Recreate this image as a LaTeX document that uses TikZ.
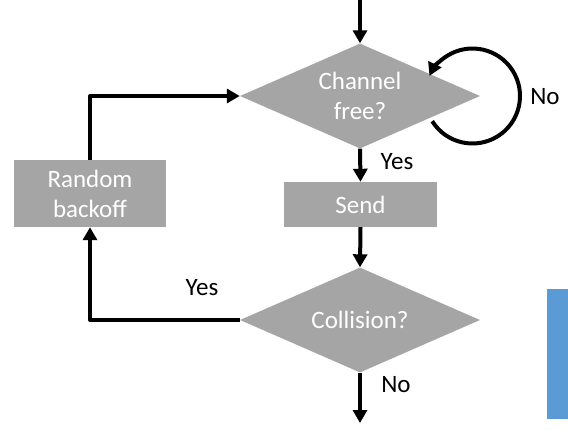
\documentclass[tikz,border=0pt]{standalone}
\usepackage{fontspec}
\setmainfont{Carlito}
\usetikzlibrary{arrows.meta,shapes.geometric}
\definecolor{boxgray}{HTML}{A5A5A5}
\definecolor{barblue}{HTML}{5B9BD5}
\tikzset{
  flow/.style={line width=4pt,-{Triangle[length=13pt,width=14pt]}},
  box/.style={rectangle,fill=boxgray,text=white,inner sep=0pt,align=center,
    font=\fontsize{25}{30}\selectfont},
  decision/.style={diamond,aspect=2.29,fill=boxgray,text=white,inner sep=0pt,align=center,
    minimum width=240,minimum height=105,font=\fontsize{25}{30}\selectfont},
  lbl/.style={text=black,inner sep=0pt,font=\fontsize{25}{30}\selectfont}
}
\begin{document}
\begin{tikzpicture}[x=1pt,y=-1pt,line join=round]
  \useasboundingbox (0,0) rectangle (568,429);
  % flow chart blocks
  \node[decision] (chan) at (360,96) {Channel\\free?};
  \node[box,minimum width=153,minimum height=45] (send) at (360.5,204.5) {Send};
  \node[decision] (coll) at (360,320) {Collision?};
  \node[box,minimum width=152,minimum height=67] (back) at (90,193.5) {Random\\backoff};
  \coordinate (start) at (360,0);
  \coordinate (out) at (360,423);
  \coordinate (upleft) at (90,96);
  \coordinate (lowleft) at (90,320);
  \coordinate (loopc) at (472.5,96);
  % connectors
  \draw[flow] (start) -- (chan.north);
  \draw[flow] (chan.south) -- (send.north);
  \draw[flow] (send.south) -- (coll.north);
  \draw[flow] (coll.south) -- (out);
  \draw[flow] (coll.west) -- (lowleft) -- (back.south);
  \draw[flow] (back.north) -- (upleft) -- (chan.west);
  \draw[flow] (loopc) ++(148:47.5) arc[start angle=148,end angle=-155,radius=47.5];
  % labels
  \node[lbl] (yes1) at (397,162) {Yes};
  \node[lbl] (no1) at (545,97) {No};
  \node[lbl] (yes2) at (202,288) {Yes};
  \node[lbl] (no2) at (396,385) {No};
  \fill[barblue] (547,289) rectangle (568,419);
\end{tikzpicture}
\end{document}
